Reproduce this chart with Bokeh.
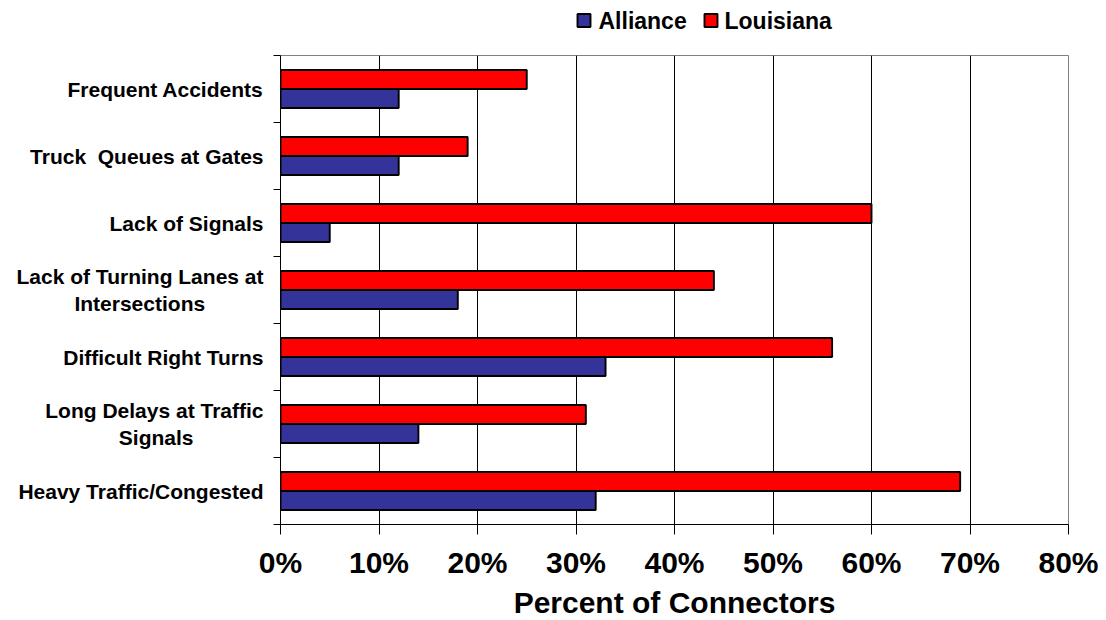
from bokeh.plotting import figure
from bokeh.layouts import column
from bokeh.models import Range1d, FixedTicker
from bokeh.core.properties import value
from bokeh.embed import file_html
from bokeh.resources import INLINE

NBSP = "\u00a0"

# Survey results: share of connectors reporting each problem (top to bottom)
categories = [
    "Frequent Accidents",
    "Truck" + NBSP + " Queues at Gates",
    "Lack of Signals",
    "Lack of Turning Lanes at\nIntersections" + NBSP * 10,
    "Difficult Right Turns",
    "Long Delays at Traffic\nSignals" + NBSP * 12,
    "Heavy Traffic/Congested",
]
alliance = [12, 12, 5, 18, 33, 14, 32]
louisiana = [25, 19, 60, 44, 56, 31, 69]
series = ["Alliance", "Louisiana"]
colors = ["#333399", "#FF0000"]

x_ticks = [0, 10, 20, 30, 40, 50, 60, 70, 80]
x_tick_labels = ["0%", "10%", "20%", "30%", "40%", "50%", "60%", "70%", "80%"]

FONT = "Liberation Sans"
n = len(categories)
centers = [n - i - 0.5 for i in range(n)]
bar_h = 0.284
off = bar_h / 2
BAR_LINE = 1.9

p = figure(
    frame_width=788, frame_height=469,
    x_range=Range1d(0, 80), y_range=Range1d(0, n),
    output_backend="svg", toolbar_location=None,
    min_border_left=280, min_border_right=38,
    min_border_top=0, min_border_bottom=96,
    background_fill_color="white", border_fill_color="white",
)
p.outline_line_color = "#808080"
p.outline_line_width = 1

# bars
p.hbar(y=[c + off for c in centers], right=louisiana, left=0, height=bar_h,
       fill_color=colors[1], line_color="black", line_width=BAR_LINE)
p.hbar(y=[c - off for c in centers], right=alliance, left=0, height=bar_h,
       fill_color=colors[0], line_color="black", line_width=BAR_LINE)

# grid
p.ygrid.visible = False
p.xgrid.ticker = FixedTicker(ticks=x_ticks[1:-1])
p.xgrid.grid_line_color = "black"
p.xgrid.grid_line_width = 1

# x axis
xa = p.xaxis[0]
xa.ticker = FixedTicker(ticks=x_ticks)
xa.major_label_overrides = {t: lab for t, lab in zip(x_ticks, x_tick_labels)}
xa.minor_tick_line_color = None
xa.major_tick_in = 0
xa.major_tick_out = 10
xa.major_tick_line_color = "black"
xa.axis_line_color = "black"
xa.axis_line_width = 1
xa.major_label_text_font = FONT
xa.major_label_text_font_style = "bold"
xa.major_label_text_font_size = "30px"
xa.major_label_text_color = "black"
xa.major_label_standoff = 11
xa.axis_label = "Percent of Connectors"
xa.axis_label_text_font = FONT
xa.axis_label_text_font_style = "bold"
xa.axis_label_text_font_size = "30px"
xa.axis_label_text_color = "black"
xa.axis_label_standoff = 4

# y axis: labels at category centres, tick marks at category boundaries
ya = p.yaxis[0]
ya.ticker = FixedTicker(ticks=centers, minor_ticks=list(range(n + 1)))
ya.major_label_overrides = {c: lab for c, lab in zip(centers, categories)}
ya.major_tick_line_color = None
ya.major_tick_in = 0
ya.major_tick_out = 0
ya.minor_tick_line_color = "black"
ya.minor_tick_in = 0
ya.minor_tick_out = 7
ya.axis_line_color = "black"
ya.major_label_text_font = FONT
ya.major_label_text_font_style = "bold"
ya.major_label_text_font_size = "21px"
ya.major_label_text_color = "black"
ya.major_label_standoff = 10

# legend strip above the plot; its data space is laid out in page pixels
lg = figure(
    frame_width=788, frame_height=55,
    x_range=Range1d(280, 1068), y_range=Range1d(55, 0),
    output_backend="svg", toolbar_location=None,
    x_axis_location=None, y_axis_location=None,
    min_border_left=280, min_border_right=38, min_border_top=0, min_border_bottom=0,
    background_fill_color="white", border_fill_color="white",
)
lg.outline_line_color = None
lg.grid.visible = False
swatch_x = [583.5, 710.5]
label_x = [598, 724]
lg.rect(x=swatch_x, y=[20, 20], width=13, height=13, fill_color=colors,
        line_color="black", line_width=BAR_LINE)
lg.text(x=label_x, y=[20, 20], text=series, text_font=value(FONT),
        text_font_style="bold", text_font_size="23px", text_color="black",
        text_baseline="middle", text_align="left")

layout = column(lg, p, spacing=0)
open("out.html", "w").write(file_html(layout, INLINE))
